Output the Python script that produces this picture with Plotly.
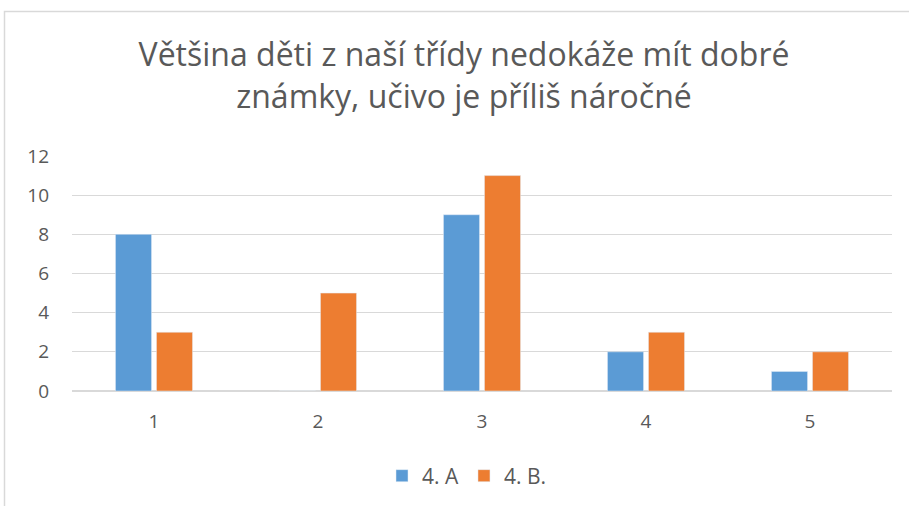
import plotly.graph_objects as go

categories = ["1", "2", "3", "4", "5"]
series_a = [8, 0, 9, 2, 1]
series_b = [3, 5, 11, 3, 2]
name_a = "4. A"
name_b = "4. B."
title = "Většina děti z naší třídy nedokáže mít dobré<br>známky, učivo je příliš náročné"

W, H = 909, 506
L, R, T = 72, 17, 156
B = H - 391
pw, ph = W - L - R, H - T - B

fig = go.Figure()
fig.add_trace(go.Bar(x=categories, y=series_a, name=name_a, marker_color="#5B9BD5"))
fig.add_trace(go.Bar(x=categories, y=series_b, name=name_b, marker_color="#ED7D31"))

font = "'Open Sans', sans-serif"
fig.update_layout(
    width=W, height=H,
    margin=dict(l=L, r=R, t=T, b=B, autoexpand=False),
    paper_bgcolor="white", plot_bgcolor="white",
    barmode="group", bargap=0.5, bargroupgap=0.12,
    title=dict(text=title, x=464 / W, xanchor="center", xref="container",
               y=1 - 66 / H, yanchor="middle", yref="container",
               font=dict(family=font, size=32, color="#595959")),
    font=dict(family=font, color="#595959", size=19),
    legend=dict(orientation="h", x=(467 - L) / pw, xanchor="center",
                y=(T + ph - 476) / ph,
                yanchor="middle", font=dict(size=21, color="#595959"),
                itemwidth=30, traceorder="normal"),
    xaxis=dict(showgrid=False, showline=True, linecolor="#d9d9d9", linewidth=1,
               ticks="", ticklabelstandoff=13, tickfont=dict(size=19, color="#595959")),
    yaxis=dict(range=[0, 12], dtick=2, showgrid=True, gridcolor="#d9d9d9",
               zeroline=True, zerolinecolor="#d9d9d9", ticks="",
               ticklabelstandoff=22, tickfont=dict(size=19, color="#595959"),
               showline=False),
    shapes=[dict(type="rect", xref="paper", yref="paper",
                 x0=(4.5 - L) / pw, x1=(W + 20 - L) / pw,
                 y0=(T + ph - (H + 20)) / ph, y1=(T + ph - 11.5) / ph,
                 line=dict(color="#d9d9d9", width=1.5), fillcolor="rgba(0,0,0,0)",
                 layer="below")],
)
fig.write_html("out.html", config={"displayModeBar": False},
               post_script="document.body.style.margin='0';document.body.style.overflow='hidden';")
